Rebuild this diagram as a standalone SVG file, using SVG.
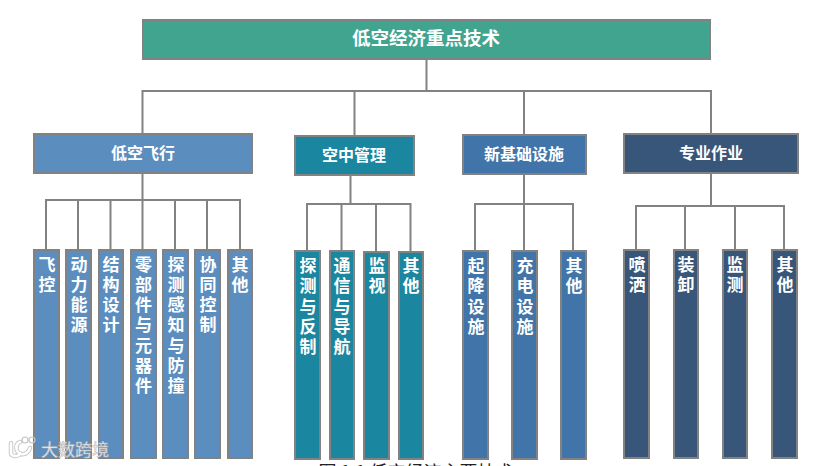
<svg xmlns="http://www.w3.org/2000/svg" width="831" height="466" viewBox="0 0 831 466">
<style>
text{font-family:"Noto Sans CJK SC","Liberation Sans",sans-serif;font-weight:700;fill:#fff;text-anchor:middle}
.box{stroke:#828282;stroke-width:2}
.t{font-size:16px}
.v{font-size:17px}
.c1{fill:#5b8dbf}.c2{fill:#1a86a0}.c3{fill:#4174a8}.c4{fill:#375679}
#connectors path{fill:none;stroke:#828282;stroke-width:2}
</style>
<rect width="831" height="466" fill="#fff"/>
<g id="connectors">
<path d="M426.500 60V91M142.500 133V91H711V133M354.500 91V135M524 91V134"/>
<path d="M142.500 173V200M46 249V200H240V249M78 200V249M110.500 200V249M142.500 200V249M175 200V249M207 200V249"/>
<path d="M350.500 175V204M307 250V204H410.500V251M341.500 204V250M376 204V251"/>
<path d="M524 174V204M475 250V204H573V250M524 204V250"/>
<path d="M711 173V206M636 249V206H784V249M685 206V249M735 206V249"/>
</g>
<g id="root"><rect class="box" x="143" y="20" width="567" height="39" fill="#40a48f"/><text x="426" y="45" font-size="18.500">低空经济重点技术</text></g>
<g id="g1"><rect class="box c1" x="34" y="134" width="218" height="39"/><text class="t" x="143" y="159">低空飞行</text></g>
<g id="g2"><rect class="box c2" x="295" y="136" width="119" height="39"/><text class="t" x="354" y="161">空中管理</text></g>
<g id="g3"><rect class="box c3" x="463" y="135" width="123" height="39"/><text class="t" x="524" y="160">新基础设施</text></g>
<g id="g4"><rect class="box c4" x="624" y="134" width="174" height="39"/><text class="t" x="711" y="159">专业作业</text></g>

<g id="a1"><rect class="box c1" x="34" y="250" width="25" height="208"/><text class="v" x="47" y="270.500">飞<tspan x="47" dy="20.250">控</tspan></text></g>
<g id="a2"><rect class="box c1" x="66" y="250" width="25" height="208"/><text class="v" x="79" y="270.500">动<tspan x="79" dy="20.250">力</tspan><tspan x="79" dy="20.250">能</tspan><tspan x="79" dy="20.250">源</tspan></text></g>
<g id="a3"><rect class="box c1" x="99" y="250" width="24" height="208"/><text class="v" x="111" y="270.500">结<tspan x="111" dy="20.250">构</tspan><tspan x="111" dy="20.250">设</tspan><tspan x="111" dy="20.250">计</tspan></text></g>
<g id="a4"><rect class="box c1" x="131" y="250" width="25" height="208"/><text class="v" x="143.500" y="270.500">零<tspan x="143.500" dy="20.250">部</tspan><tspan x="143.500" dy="20.250">件</tspan><tspan x="143.500" dy="20.250">与</tspan><tspan x="143.500" dy="20.250">元</tspan><tspan x="143.500" dy="20.250">器</tspan><tspan x="143.500" dy="20.250">件</tspan></text></g>
<g id="a5"><rect class="box c1" x="163" y="250" width="25" height="208"/><text class="v" x="176" y="270.500">探<tspan x="176" dy="20.250">测</tspan><tspan x="176" dy="20.250">感</tspan><tspan x="176" dy="20.250">知</tspan><tspan x="176" dy="20.250">与</tspan><tspan x="176" dy="20.250">防</tspan><tspan x="176" dy="20.250">撞</tspan></text></g>
<g id="a6"><rect class="box c1" x="195" y="250" width="25" height="208"/><text class="v" x="208" y="270.500">协<tspan x="208" dy="20.250">同</tspan><tspan x="208" dy="20.250">控</tspan><tspan x="208" dy="20.250">制</tspan></text></g>
<g id="a7"><rect class="box c1" x="228" y="250" width="24" height="208"/><text class="v" x="240" y="270.500">其<tspan x="240" dy="20.250">他</tspan></text></g>

<g id="b1"><rect class="box c2" x="295" y="251" width="25" height="208"/><text class="v" x="308" y="272">探<tspan x="308" dy="20.250">测</tspan><tspan x="308" dy="20.250">与</tspan><tspan x="308" dy="20.250">反</tspan><tspan x="308" dy="20.250">制</tspan></text></g>
<g id="b2"><rect class="box c2" x="330" y="251" width="24" height="208"/><text class="v" x="342" y="272">通<tspan x="342" dy="20.250">信</tspan><tspan x="342" dy="20.250">与</tspan><tspan x="342" dy="20.250">导</tspan><tspan x="342" dy="20.250">航</tspan></text></g>
<g id="b3"><rect class="box c2" x="364" y="252" width="25" height="207"/><text class="v" x="377" y="272">监<tspan x="377" dy="20.250">视</tspan></text></g>
<g id="b4"><rect class="box c2" x="399" y="252" width="24" height="207"/><text class="v" x="411" y="272">其<tspan x="411" dy="20.250">他</tspan></text></g>

<g id="c1"><rect class="box c3" x="463" y="251" width="25" height="208"/><text class="v" x="476" y="272">起<tspan x="476" dy="20.250">降</tspan><tspan x="476" dy="20.250">设</tspan><tspan x="476" dy="20.250">施</tspan></text></g>
<g id="c2"><rect class="box c3" x="512" y="251" width="25" height="208"/><text class="v" x="525" y="272">充<tspan x="525" dy="20.250">电</tspan><tspan x="525" dy="20.250">设</tspan><tspan x="525" dy="20.250">施</tspan></text></g>
<g id="c3"><rect class="box c3" x="561" y="251" width="25" height="208"/><text class="v" x="574" y="272">其<tspan x="574" dy="20.250">他</tspan></text></g>

<g id="d1"><rect class="box c4" x="624" y="250" width="25" height="208"/><text class="v" x="637" y="270.500">喷<tspan x="637" dy="20.250">洒</tspan></text></g>
<g id="d2"><rect class="box c4" x="674" y="250" width="24" height="208"/><text class="v" x="686" y="270.500">装<tspan x="686" dy="20.250">卸</tspan></text></g>
<g id="d3"><rect class="box c4" x="723" y="250" width="24" height="208"/><text class="v" x="735" y="270.500">监<tspan x="735" dy="20.250">测</tspan></text></g>
<g id="d4"><rect class="box c4" x="772" y="250" width="25" height="208"/><text class="v" x="785" y="270.500">其<tspan x="785" dy="20.250">他</tspan></text></g>

<text x="416" y="479" font-size="18" style="font-weight:400;fill:#222">图 1.1 低空经济主要技术</text>
<g id="watermark">
<g fill="none" stroke="#c9c9c9" stroke-width="4.500" stroke-linecap="round">
<path d="M11 443v10c0 3 5 4 8 2M20 442c-5 2-5 10 1 12 5 1 8-3 9-6"/>
</g>
<g fill="none" stroke="#fff" stroke-width="2.500" stroke-linecap="round">
<path d="M11 443v10c0 3 5 4 8 2M20 442c-5 2-5 10 1 12 5 1 8-3 9-6"/>
</g>
<circle cx="25" cy="440" r="3" fill="none" stroke="#c4c4c4" stroke-width="1.200"/><circle cx="32" cy="440" r="3" fill="none" stroke="#c4c4c4" stroke-width="1.200"/>
<text x="75" y="456" font-size="17" style="font-weight:400;fill:#f2f2f2;stroke:#b5b5b5;stroke-width:.5">大数跨境</text>
</g>
</svg>
